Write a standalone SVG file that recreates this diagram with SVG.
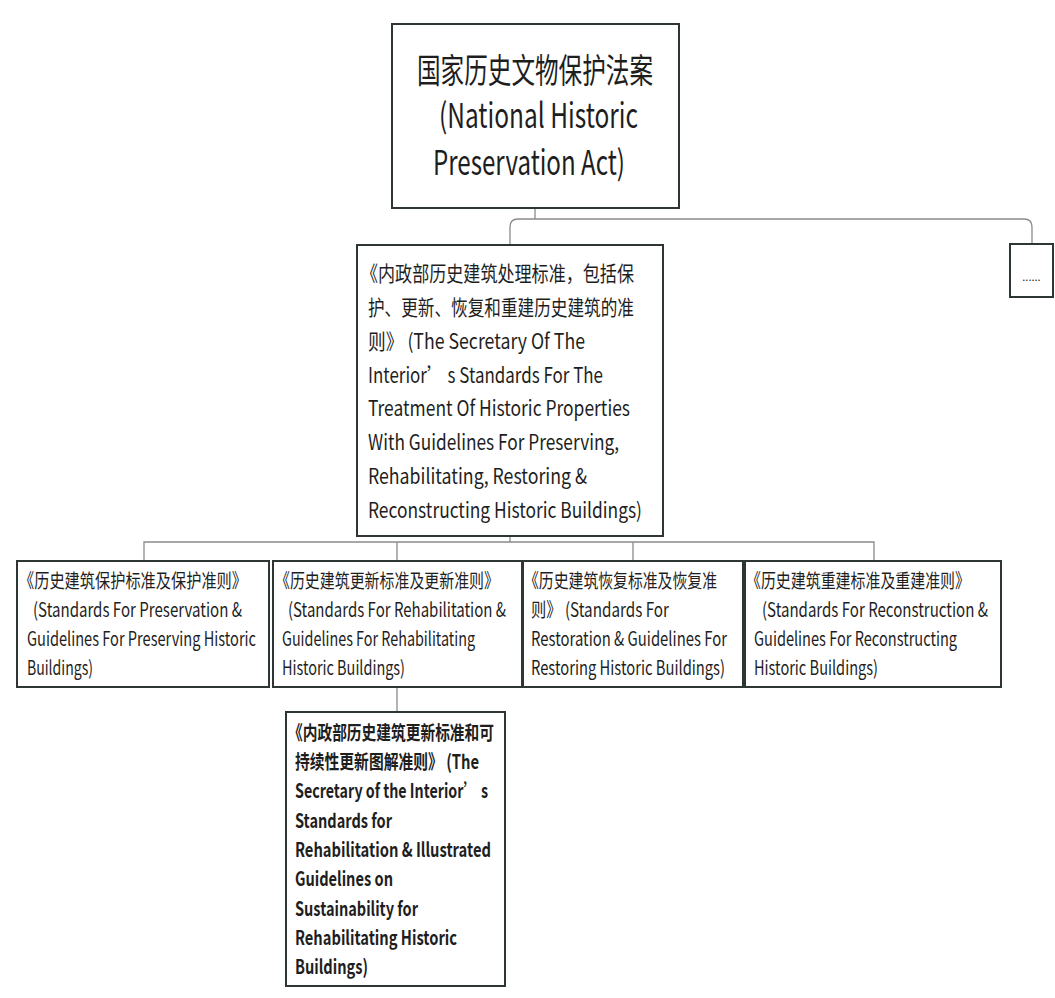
<svg xmlns="http://www.w3.org/2000/svg" width="1055" height="998" viewBox="0 0 1055 998">
<style>
.box{fill:#fff;stroke:#2e3535;stroke-width:2}
.t{font-family:"Noto Sans CJK SC","Noto Sans",sans-serif;fill:#1e1e1e}
.big{font-size:34px}
.mid{font-size:21px}
.sm{font-size:19.5px}
.bold{font-weight:bold}
.con{fill:none;stroke:#8a8a8a;stroke-width:1.3}
</style>
<rect width="1055" height="998" fill="#fff"/>
<g id="connectors">
<path class="con" d="M535,208 V219"/>
<path class="con" d="M510,245 V227 Q510,219 518,219 H1024 Q1032,219 1032,227 V244"/>
<path class="con" d="M510,536 V542"/>
<path class="con" d="M144,561 V542 H874 V561"/>
<path class="con" d="M397,542 V561"/>
<path class="con" d="M633,542 V561"/>
<path class="con" d="M397,687 V712"/>
</g>
<g id="node-act">
<rect class="box" x="392" y="24" width="287" height="184" stroke-width="2.5"/>
<text class="t big" x="417" y="83" textLength="236" lengthAdjust="spacingAndGlyphs">国家历史文物保护法案</text>
<text class="t big" x="439" y="128" textLength="199" lengthAdjust="spacingAndGlyphs">(National Historic</text>
<text class="t big" x="433" y="175" textLength="192" lengthAdjust="spacingAndGlyphs">Preservation Act)</text>
</g>
<g id="node-standards">
<rect class="box" x="357" y="245" width="306" height="291"/>
<text class="t mid" x="361" y="281" textLength="273" lengthAdjust="spacingAndGlyphs">《内政部历史建筑处理标准，包括保</text>
<text class="t mid" x="368" y="315" textLength="266" lengthAdjust="spacingAndGlyphs">护、更新、恢复和重建历史建筑的准</text>
<text class="t mid" x="368" y="349" textLength="217" lengthAdjust="spacingAndGlyphs">则》 (The Secretary Of The</text>
<text class="t mid" x="368" y="383" textLength="235" lengthAdjust="spacingAndGlyphs">Interior’ s Standards For The</text>
<text class="t mid" x="368" y="416" textLength="262" lengthAdjust="spacingAndGlyphs">Treatment Of Historic Properties</text>
<text class="t mid" x="368" y="450" textLength="251" lengthAdjust="spacingAndGlyphs">With Guidelines For Preserving,</text>
<text class="t mid" x="368" y="484" textLength="219" lengthAdjust="spacingAndGlyphs">Rehabilitating, Restoring &amp;</text>
<text class="t mid" x="368" y="518" textLength="274" lengthAdjust="spacingAndGlyphs">Reconstructing Historic Buildings)</text>
</g>
<g id="node-more">
<rect class="box" x="1010" y="244" width="43" height="53"/>
<text class="t" x="1031.5" y="281" font-size="11" text-anchor="middle">......</text>
</g>
<g id="node-preservation">
<rect class="box" x="17" y="561" width="252" height="126"/>
<text class="t sm" x="19" y="588" textLength="228" lengthAdjust="spacingAndGlyphs">《历史建筑保护标准及保护准则》</text>
<text class="t sm" x="33" y="617" textLength="209" lengthAdjust="spacingAndGlyphs">(Standards For Preservation &amp;</text>
<text class="t sm" x="27" y="646" textLength="229" lengthAdjust="spacingAndGlyphs">Guidelines For Preserving Historic</text>
<text class="t sm" x="27" y="675" textLength="66" lengthAdjust="spacingAndGlyphs">Buildings)</text>
</g>
<g id="node-rehabilitation">
<rect class="box" x="273" y="561" width="249" height="126"/>
<text class="t sm" x="275" y="588" textLength="224" lengthAdjust="spacingAndGlyphs">《历史建筑更新标准及更新准则》</text>
<text class="t sm" x="288" y="617" textLength="218" lengthAdjust="spacingAndGlyphs">(Standards For Rehabilitation &amp;</text>
<text class="t sm" x="282" y="646" textLength="193" lengthAdjust="spacingAndGlyphs">Guidelines For Rehabilitating</text>
<text class="t sm" x="282" y="675" textLength="123" lengthAdjust="spacingAndGlyphs">Historic Buildings)</text>
</g>
<g id="node-restoration">
<rect class="box" x="523" y="561" width="220" height="126"/>
<text class="t sm" x="524" y="588" textLength="193" lengthAdjust="spacingAndGlyphs">《历史建筑恢复标准及恢复准</text>
<text class="t sm" x="531" y="617" textLength="138" lengthAdjust="spacingAndGlyphs">则》 (Standards For</text>
<text class="t sm" x="531" y="646" textLength="196" lengthAdjust="spacingAndGlyphs">Restoration &amp; Guidelines For</text>
<text class="t sm" x="531" y="675" textLength="194" lengthAdjust="spacingAndGlyphs">Restoring Historic Buildings)</text>
</g>
<g id="node-reconstruction">
<rect class="box" x="745" y="561" width="256" height="126"/>
<text class="t sm" x="746" y="588" textLength="224" lengthAdjust="spacingAndGlyphs">《历史建筑重建标准及重建准则》</text>
<text class="t sm" x="762" y="617" textLength="226" lengthAdjust="spacingAndGlyphs">(Standards For Reconstruction &amp;</text>
<text class="t sm" x="754" y="646" textLength="203" lengthAdjust="spacingAndGlyphs">Guidelines For Reconstructing</text>
<text class="t sm" x="754" y="675" textLength="124" lengthAdjust="spacingAndGlyphs">Historic Buildings)</text>
</g>
<g id="node-sustainability">
<rect class="box" x="286" y="712" width="219" height="274"/>
<text class="t sm bold" x="288" y="740" textLength="206" lengthAdjust="spacingAndGlyphs">《内政部历史建筑更新标准和可</text>
<text class="t sm bold" x="295" y="769" textLength="184" lengthAdjust="spacingAndGlyphs">持续性更新图解准则》 (The</text>
<text class="t sm bold" x="295" y="798" textLength="193" lengthAdjust="spacingAndGlyphs">Secretary of the Interior’ s</text>
<text class="t sm bold" x="295" y="828" textLength="97" lengthAdjust="spacingAndGlyphs">Standards for</text>
<text class="t sm bold" x="295" y="857" textLength="196" lengthAdjust="spacingAndGlyphs">Rehabilitation &amp; Illustrated</text>
<text class="t sm bold" x="295" y="886" textLength="98" lengthAdjust="spacingAndGlyphs">Guidelines on</text>
<text class="t sm bold" x="295" y="916" textLength="123" lengthAdjust="spacingAndGlyphs">Sustainability for</text>
<text class="t sm bold" x="295" y="945" textLength="162" lengthAdjust="spacingAndGlyphs">Rehabilitating Historic</text>
<text class="t sm bold" x="295" y="974" textLength="73" lengthAdjust="spacingAndGlyphs">Buildings)</text>
</g>
</svg>
